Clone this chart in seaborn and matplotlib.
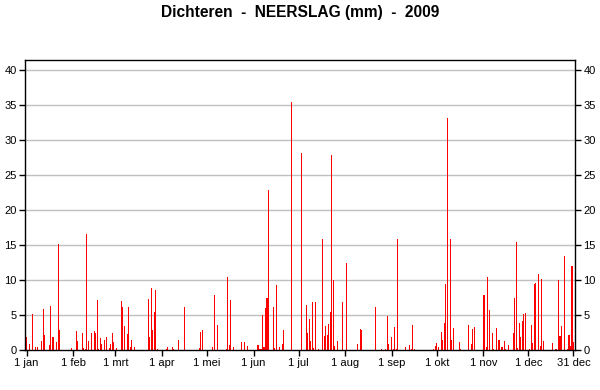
import matplotlib
matplotlib.use("Agg")
import matplotlib.pyplot as plt
import seaborn as sns
import numpy as np
import pandas as pd

# Day-of-year index (0 = 1 jan) and precipitation (mm)
rain_days = [0, 2, 4, 6, 7, 10, 11, 12, 15, 16, 17, 18, 20, 21, 22, 30, 33, 34, 37, 38,
             39, 40, 41, 43, 45, 46, 47, 48, 49, 50, 52, 53, 55, 56, 57, 58,
             60, 63, 64, 65, 67, 68, 69, 70, 72, 81, 82, 83, 84, 85, 86, 87, 93, 94,
             97, 98, 101, 105, 115, 116, 117,
             124, 125, 127, 133, 134, 135, 136, 138, 143, 145, 147, 154, 155, 156, 157,
             158, 159, 160, 161, 164, 165, 166, 168, 170, 171, 176, 183,
             186, 187, 188, 189, 190, 191, 192, 194, 197, 198, 199, 200, 201, 202, 203,
             204, 205, 207, 210, 213, 220, 222, 223, 232, 236, 239, 240, 241, 243, 244,
             245, 246, 247,
             252, 255, 256, 257, 258, 271, 272, 273, 274, 276, 277, 278, 279, 280, 282,
             283, 284, 288, 289, 294, 296, 297, 298, 304, 305, 306, 307, 308, 310,
             311, 313, 314, 315, 316, 317, 318, 319, 321, 324, 325, 326, 327, 328, 329,
             330, 331, 332, 335, 336, 337, 338, 339, 341, 342, 343, 344, 350, 352, 353,
             354, 355, 356, 358, 360, 361, 362, 363, 364]
rain_mm = [1.9, 0.9, 5.1, 0.4, 0.4, 1.3, 5.9, 2.1, 0.7, 6.3, 1.9, 1.9, 1.1, 15.1, 2.9, 0.3, 2.7, 1.3, 2.4, 0.3,
           0.15, 16.6, 1.3, 2.4, 2.7, 2.4, 7.1, 0.1, 1.7, 0.9, 1.4, 1.9, 0.3, 0.9, 2.4, 1.1,
           0.3, 7.0, 6.1, 3.4, 2.3, 6.1, 0.4, 1.4, 0.4, 7.3, 1.9, 8.9, 2.9, 5.4, 8.6, 0.15, 0.15, 0.4,
           0.4, 0.15, 1.4, 6.1, 0.3, 2.6, 2.9,
           0.4, 7.9, 3.6, 0.15, 10.4, 0.7, 7.1, 0.4, 1.1, 1.1, 0.6, 0.7, 0.15, 0.15, 5.0,
           0.4, 6.0, 7.4, 22.9, 6.1, 0.3, 9.3, 0.4, 0.9, 2.9, 35.4, 28.1,
           6.4, 2.4, 4.4, 1.3, 6.9, 0.3, 6.9, 0.15, 15.9, 2.0, 3.4, 2.1, 3.7, 5.4, 27.9,
           10.0, 0.6, 1.3, 6.9, 12.4, 0.9, 3.0, 2.9, 6.1, 0.15, 0.15, 4.9, 0.9, 1.9, 0.15,
           3.3, 0.15, 15.9,
           0.4, 0.7, 0.15, 3.6, 0.15, 0.15, 0.6, 1.0, 0.4, 2.6, 1.4, 3.9, 9.4, 33.1, 15.9,
           1.4, 3.1, 1.1, 0.15, 3.6, 0.9, 3.0, 3.3, 7.9, 7.9, 0.4, 10.4, 5.7, 2.4,
           0.15, 3.1, 1.4, 1.4, 0.4, 0.4, 1.3, 0.15, 0.7, 2.4, 7.4, 15.4, 0.3, 3.9, 1.9,
           4.1, 5.1, 5.3, 0.15, 3.6, 1.0, 9.4, 9.6, 10.9, 0.6, 10.1, 1.3, 1.0, 0.15, 0.15,
           10.0, 2.0, 3.4, 13.4, 0.15, 2.1, 0.6, 12.0, 1.1]

tick_days = [0, 31, 59, 90, 120, 151, 181, 212, 243, 273, 304, 334, 364]
tick_labels = ["1 jan", "1 feb", "1 mrt", "1 apr", "1 mei", "1 jun", "1 jul",
               "1 aug", "1 sep", "1 okt", "1 nov", "1 dec", "31 dec"]
y_ticks = [0, 5, 10, 15, 20, 25, 30, 35, 40]
title = "Dichteren  -  NEERSLAG (mm)  -  2009"

sns.set_style("white")
plt.rcParams['font.family'] = ['Liberation Sans', 'DejaVu Sans']
plt.rcParams['text.color'] = 'black'
plt.rcParams['xtick.color'] = 'black'
plt.rcParams['ytick.color'] = 'black'

values = np.zeros(365)
values[rain_days] = rain_mm
df = pd.DataFrame({"day": np.arange(365), "mm": values})

fig = plt.figure(figsize=(6, 3.9), dpi=100)
ax = fig.add_axes([25/600, 1 - 350/390, 550/600, 290/390])

ax.set_axisbelow(True)
for yv in y_ticks[1:]:
    ax.axhline(yv, color="#c0c0c0", lw=1, zorder=0)

sns.barplot(data=df, x="day", y="mm", color="#ff0000", width=0.7,
            saturation=1, linewidth=0, ax=ax, zorder=2)
for p in ax.patches:
    p.set_antialiased(False)

ax.set_xlim(-1.1, 365.0)
ax.set_ylim(0, 41.4)
ax.set_xticks(tick_days)
ax.set_xticklabels(tick_labels)
ax.set_yticks(y_ticks)
ax.set_xlabel("")
ax.set_ylabel("")
ax.tick_params(axis="both", direction="out", length=4, width=1, color="black",
               labelcolor="black", labelsize=8, pad=2)
ax.tick_params(axis="y", left=True, right=True, labelleft=True, labelright=True)
ax.tick_params(axis="x", bottom=True)
for s in ax.spines.values():
    s.set_visible(True)
    s.set_color("black")
    s.set_linewidth(1)

fig.text(0.5, 1 - 12/390, title, ha="center", va="center",
         fontsize=11.2, fontweight="bold", color="black")

fig.savefig("out.png", dpi=100)
